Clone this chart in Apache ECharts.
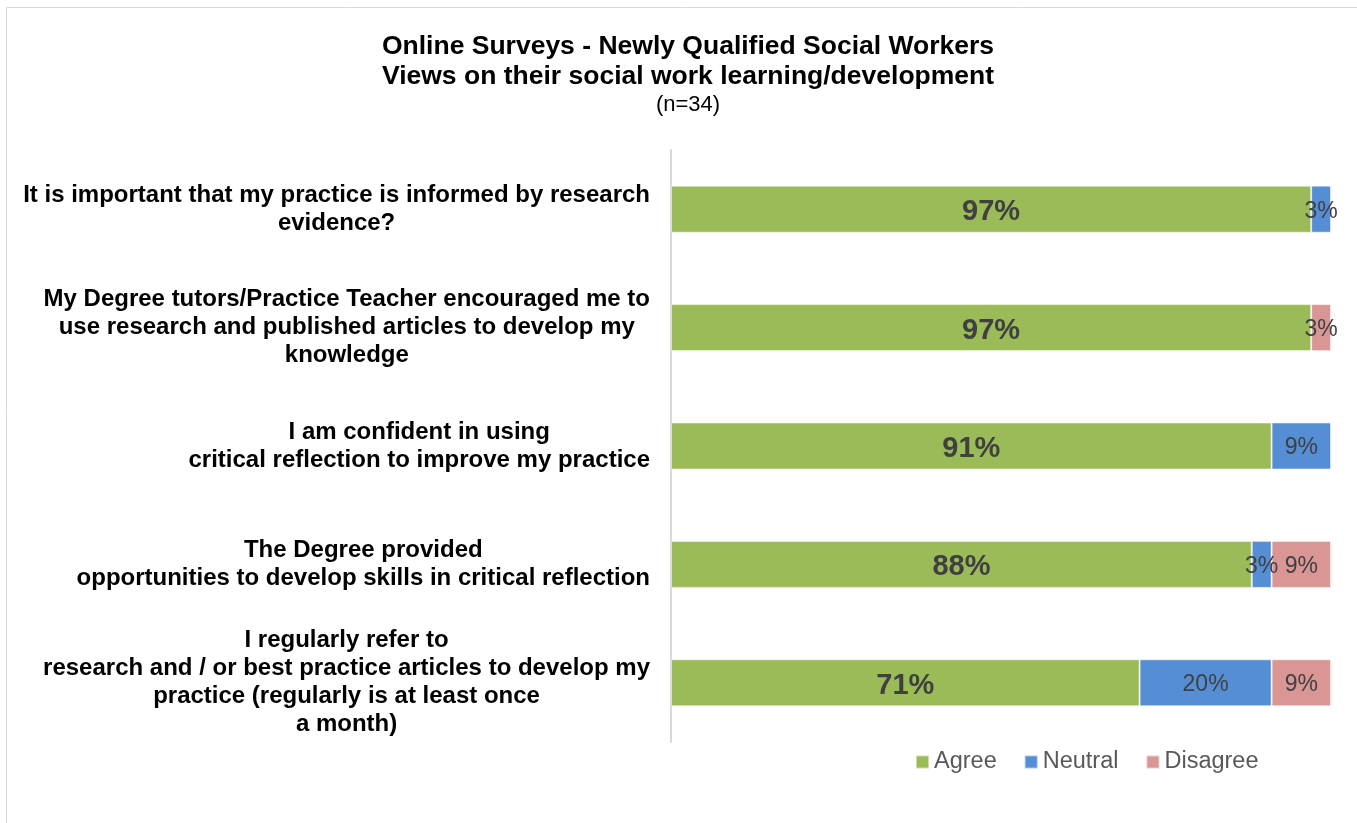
<!DOCTYPE html>
<html>
<head>
<meta charset="utf-8">
<script src="https://cdn.jsdelivr.net/npm/echarts@6/dist/echarts.min.js"></script>
<style>
  html, body { margin: 0; padding: 0; background: #fff; }
  #chart { width: 1357px; height: 823px; }
</style>
</head>
<body>
<div id="chart"></div>
<script>
// Survey statements (top to bottom), one line break per printed line
const categories = [
  'It is important that my practice is informed by research\nevidence?',
  'My Degree tutors/Practice Teacher encouraged me to\nuse research and published articles to develop my\nknowledge',
  'I am confident in using\ncritical reflection to improve my practice',
  'The Degree provided\nopportunities to develop skills in critical reflection',
  'I regularly refer to\nresearch and / or best practice articles to develop my\npractice (regularly is at least once\na month)'
];

// Response shares in percent
const agree    = [97, 97, 91, 88, 71];
const neutral  = [3, 0, 9, 3, 20];
const disagree = [0, 3, 0, 9, 9];

const colors = { agree: '#9BBB59', neutral: '#558ED5', disagree: '#D99694' };
const FONT = '"Liberation Sans", Arial, sans-serif';

const chart = echarts.init(document.getElementById('chart'));

// zero shares are left out of the stack
function segData(arr) {
  return arr.map(v => (v === 0 ? '-' : v));
}

function smallLabel() {
  return {
    show: true,
    position: 'inside',
    offset: [0, 2],
    formatter: p => (p.value ? p.value + '%' : ''),
    color: '#404040',
    fontFamily: FONT,
    fontSize: 23
  };
}

const segStyle = c => ({ color: c, borderColor: 'rgba(255,255,255,0.5)', borderWidth: 1 });

chart.setOption({
  animation: false,
  backgroundColor: '#fff',
  title: {
    text: 'Online Surveys - Newly Qualified Social Workers\nViews on their social work learning/development',
    subtext: '(n=34)',
    left: 683,
    textAlign: 'center',
    top: 27,
    itemGap: 1,
    textStyle: {
      fontFamily: FONT,
      fontWeight: 'bold',
      fontSize: 26.5,
      lineHeight: 30,
      color: '#000'
    },
    subtextStyle: {
      fontFamily: FONT,
      fontSize: 22,
      lineHeight: 24,
      color: '#000'
    }
  },
  legend: {
    left: 915,
    top: 750,
    itemWidth: 13,
    itemHeight: 13,
    itemGap: 27,
    icon: 'rect',
    padding: 0,
    textStyle: { fontFamily: FONT, fontSize: 23.5, color: '#595959' },
    data: ['Agree', 'Neutral', 'Disagree']
  },
  grid: { left: 671, right: 26, top: 150, bottom: 81 },
  xAxis: {
    type: 'value',
    min: 0,
    max: 100,
    show: false
  },
  yAxis: {
    type: 'category',
    inverse: true,
    data: categories,
    axisLine: { show: true, lineStyle: { color: '#D9D9D9', width: 2 } },
    axisTick: { show: false },
    axisLabel: {
      margin: 21,
      formatter: v => v.split('\n').map(s => '{c|' + s + '}').join('\n'),
      rich: {
        c: {
          align: 'center',
          fontFamily: FONT,
          fontWeight: 'bold',
          fontSize: 24,
          lineHeight: 28,
          color: '#000'
        }
      }
    }
  },
  graphic: [{
    type: 'rect',
    silent: true,
    shape: { x: 6.5, y: 7.5, width: 1400, height: 900 },
    style: { fill: null, stroke: '#D9D9D9', lineWidth: 1 }
  }],
  series: [
    {
      name: 'Agree',
      type: 'bar',
      stack: 'total',
      barWidth: 47,
      data: segData(agree),
      itemStyle: segStyle(colors.agree),
      label: {
        show: true,
        position: 'inside',
        offset: [0, 3],
        formatter: p => p.value + '%',
        color: '#404040',
        fontFamily: FONT,
        fontWeight: 'bold',
        fontSize: 29
      }
    },
    {
      name: 'Neutral',
      type: 'bar',
      stack: 'total',
      barWidth: 47,
      data: segData(neutral),
      itemStyle: segStyle(colors.neutral),
      label: smallLabel()
    },
    {
      name: 'Disagree',
      type: 'bar',
      stack: 'total',
      barWidth: 47,
      data: segData(disagree),
      itemStyle: segStyle(colors.disagree),
      label: smallLabel()
    }
  ]
});
</script>
</body>
</html>
